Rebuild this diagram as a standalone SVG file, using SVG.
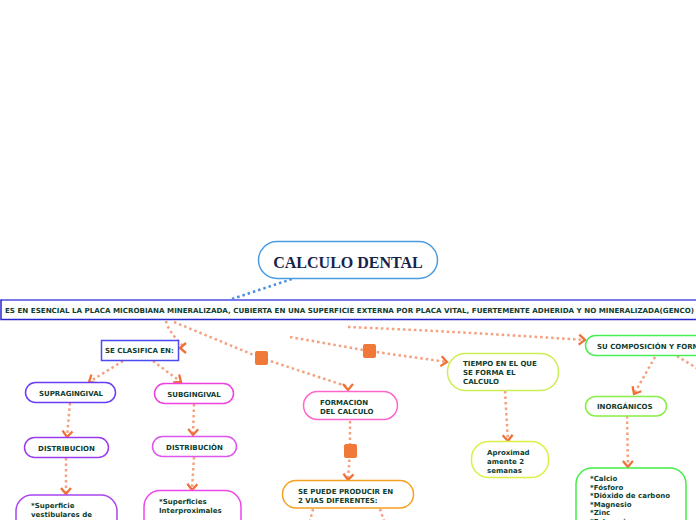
<svg xmlns="http://www.w3.org/2000/svg" width="696" height="520" viewBox="0 0 696 520">
<defs>
<marker id="chev" markerUnits="userSpaceOnUse" markerWidth="14" markerHeight="14" viewBox="0 0 14 14" refX="8" refY="7" orient="auto">
<path d="M2,2 L8,7 L2,12" fill="none" stroke="#f07038" stroke-width="2.3" stroke-dasharray="none"/>
</marker>
</defs>
<style>
.n{fill:#fff;stroke-width:1.5}
.t{font-family:"DejaVu Sans",Verdana,sans-serif;font-weight:bold;font-size:7px;fill:#0f3d2e}
.c{fill:none;stroke:#f5a07e;stroke-width:2.5;stroke-dasharray:2.5 3}
.cb{fill:none;stroke:#4a90e0;stroke-width:2.5;stroke-dasharray:2.5 3}
.sq{fill:#f07838}
</style>
<rect width="696" height="520" fill="#fff"/>

<g id="connectors">
<path class="cb" d="M232,299 L292,279"/>
<path class="c" d="M166,321 C170,338 190,348 180,348" marker-end="url(#chev)"/>
<path class="c" d="M174,322 L261,358 L340,384 Q348,386 348,390" marker-end="url(#chev)"/>
<path class="c" d="M290,337 L369,351 L447,362" marker-end="url(#chev)"/>
<path class="c" d="M348,327 Q450,331 585,340" marker-end="url(#chev)"/>
<path class="c" d="M123,361 L89,382" marker-end="url(#chev)"/>
<path class="c" d="M153,361 L181,382" marker-end="url(#chev)"/>
<path class="c" d="M70,403 L67,437" marker-end="url(#chev)"/>
<path class="c" d="M194,404 L193,435" marker-end="url(#chev)"/>
<path class="c" d="M66,458 L66,494" marker-end="url(#chev)"/>
<path class="c" d="M194,457 L192,490" marker-end="url(#chev)"/>
<path class="c" d="M350,421 L350,451 L348,480" marker-end="url(#chev)"/>
<path class="c" d="M313,509 L310,521"/>
<path class="c" d="M380,509 L384,521"/>
<path class="c" d="M505,391 L508,441" marker-end="url(#chev)"/>
<path class="c" d="M655,357 L634,394" marker-end="url(#chev)"/>
<path class="c" d="M677,356 L698,369"/>
<path class="c" d="M627,416 L628,467" marker-end="url(#chev)"/>
<rect class="sq" x="255" y="351" width="13" height="14" rx="2"/>
<rect class="sq" x="363" y="344" width="13" height="14" rx="2"/>
<rect class="sq" x="344" y="444" width="13" height="14" rx="2"/>
</g>

<g id="title">
<rect class="n" x="258.5" y="241.5" width="179" height="37" rx="18.5" stroke="#4a9be0" stroke-width="1.3"/>
<text x="348" y="268" text-anchor="middle" font-family="'Liberation Serif','Times New Roman',serif" font-weight="bold" font-size="16" fill="#14234a">CALCULO DENTAL</text>
</g>

<g id="definicion">
<rect x="1" y="300" width="710" height="19.5" fill="#fff" stroke="#2626cf" stroke-width="1.5"/>
<line x1="2" y1="300" x2="696" y2="300" stroke="#8585f0" stroke-width="1.5"/>
<text class="t" x="5" y="313" textLength="689" lengthAdjust="spacingAndGlyphs">ES EN ESENCIAL LA PLACA MICROBIANA MINERALIZADA, CUBIERTA EN UNA SUPERFICIE EXTERNA POR PLACA VITAL, FUERTEMENTE ADHERIDA Y NO MINERALIZADA(GENCO)</text>
</g>

<g id="clasifica">
<rect x="101.5" y="340.5" width="77" height="20" fill="#fff" stroke="#4a4af0" stroke-width="1.5"/>
<text class="t" x="105" y="353">SE CLASIFICA EN:</text>
</g>

<g id="supragingival">
<rect class="n" x="25.5" y="382.5" width="90" height="20" rx="10" stroke="#6a3cf5"/>
<text class="t" x="71" y="395.5" text-anchor="middle">SUPRAGINGIVAL</text>
</g>

<g id="subgingival">
<rect class="n" x="154.5" y="383.5" width="79" height="20" rx="10" stroke="#f040e0"/>
<text class="t" x="194" y="396.5" text-anchor="middle">SUBGINGIVAL</text>
</g>

<g id="distribucion1">
<rect class="n" x="24.5" y="437.5" width="84" height="20" rx="10" stroke="#9a3cee"/>
<text class="t" x="66.5" y="450.5" text-anchor="middle">DISTRIBUCION</text>
</g>

<g id="distribucion2">
<rect class="n" x="152.5" y="436.5" width="84" height="20" rx="10" stroke="#dd55ee"/>
<text class="t" x="194.5" y="449.5" text-anchor="middle">DISTRIBUCIÒN</text>
</g>

<g id="vestibulares">
<rect class="n" x="16" y="495" width="101" height="40" rx="16" stroke="#aa44ee"/>
<text class="t" x="31" y="508">*Superficie</text>
<text class="t" x="31" y="517">vestibulares de</text>
</g>

<g id="interproximales">
<rect class="n" x="144" y="490.5" width="97" height="45" rx="16" stroke="#ee44ee"/>
<text class="t" x="159" y="504">*Superficies</text>
<text class="t" x="159" y="512.5">Interproximales</text>
</g>

<g id="formacion">
<rect class="n" x="303.5" y="391.5" width="94" height="28" rx="14" stroke="#ff66cc"/>
<text class="t" x="320" y="405">FORMACION</text>
<text class="t" x="320" y="413.5">DEL CALCULO</text>
</g>

<g id="vias">
<rect class="n" x="282.5" y="480.5" width="131" height="27.5" rx="13.5" stroke="#f5a020"/>
<text class="t" x="298" y="494">SE PUEDE PRODUCIR EN</text>
<text class="t" x="298" y="503">2 VIAS DIFERENTES:</text>
</g>

<g id="tiempo">
<rect class="n" x="447.5" y="353.5" width="111" height="37" rx="18" stroke="#ccee55"/>
<text class="t" x="463" y="366">TIEMPO EN EL QUE</text>
<text class="t" x="463" y="375">SE FORMA EL</text>
<text class="t" x="463" y="384">CALCULO</text>
</g>

<g id="semanas">
<rect class="n" x="471.5" y="441.5" width="77" height="36" rx="17" stroke="#ddee44"/>
<text class="t" x="487" y="455">Aproximad</text>
<text class="t" x="487" y="464">amente 2</text>
<text class="t" x="487" y="472.5">semanas</text>
</g>

<g id="composicion">
<rect class="n" x="585.5" y="335.5" width="130" height="20" rx="10" stroke="#44ee55"/>
<text class="t" x="597" y="348.5">SU COMPOSICIÓN Y FORMA</text>
</g>

<g id="inorganicos">
<rect class="n" x="585.5" y="396.5" width="81" height="19.5" rx="10" stroke="#88ee44"/>
<text class="t" x="597" y="409">INORGÁNICOS</text>
</g>

<g id="elementos">
<rect class="n" x="576" y="468" width="110" height="70" rx="16" stroke="#44ee44"/>
<text class="t" x="590" y="481">*Calcio</text>
<text class="t" x="590" y="489.5">*Fósforo</text>
<text class="t" x="590" y="498">*Dióxido de carbono</text>
<text class="t" x="590" y="506.5">*Magnesio</text>
<text class="t" x="590" y="515">*Zinc</text>
<text class="t" x="590" y="523.5">*Estroncio</text>
</g>
</svg>
